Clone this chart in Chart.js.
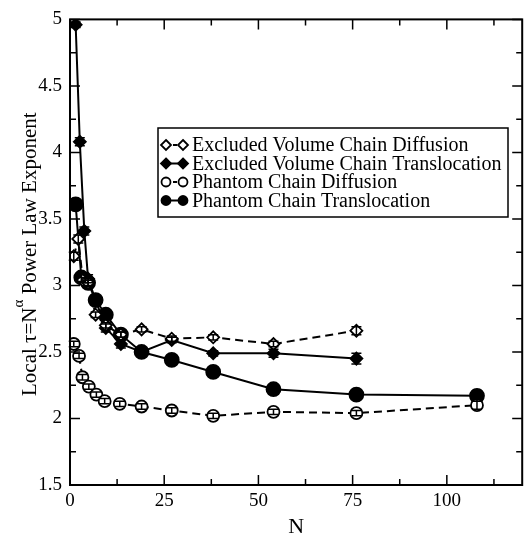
<!DOCTYPE html>
<html>
<head>
<meta charset="utf-8">
<script src="https://cdn.jsdelivr.net/npm/chart.js@4/dist/chart.umd.min.js"></script>
<style>
  html, body { margin: 0; padding: 0; background: #fff; }
</style>
</head>
<body>
<canvas id="chart" width="531" height="541"></canvas>
<script>
// ── Datos ───────────────────────────────────────────────────────────
const evdN   = [1.0, 2.2, 3.4, 4.8, 6.8, 9.5, 13.5, 19, 27, 38, 54, 76];
const evdVal = [3.22, 3.35, 3.04, 3.02, 2.78, 2.70, 2.63, 2.67, 2.60, 2.61, 2.56, 2.66];
const evdErr = [0.03, 0.03, 0.02, 0.02, 0.02, 0.02, 0.02, 0.02, 0.02, 0.02, 0.02, 0.03];

const evtN   = [1.5, 2.6, 3.8, 4.8, 6.8, 9.5, 13.5, 19, 27, 38, 54, 76];
const evtVal = [4.96, 4.08, 3.41, 3.05, 2.89, 2.68, 2.56, 2.50, 2.59, 2.49, 2.49, 2.45];
const evtErr = [0.02, 0.03, 0.03, 0.03, 0.03, 0.03, 0.03, 0.02, 0.02, 0.02, 0.03, 0.04];

const pdN    = [1.0, 2.4, 3.3, 5.0, 7.0, 9.2, 13.2, 19, 27, 38, 54, 76, 108];
const pdVal  = [2.56, 2.47, 2.31, 2.24, 2.18, 2.13, 2.11, 2.09, 2.06, 2.02, 2.05, 2.04, 2.10];
const pdErr  = [0.02, 0.02, 0.02, 0.02, 0.02, 0.02, 0.02, 0.02, 0.02, 0.02, 0.02, 0.02, 0.03];

const ptN    = [1.5, 3.0, 4.8, 6.8, 9.5, 13.5, 19, 27, 38, 54, 76, 108];
const ptVal  = [3.61, 3.06, 3.02, 2.89, 2.78, 2.63, 2.50, 2.44, 2.35, 2.22, 2.18, 2.17];
const ptErr  = [0.02, 0.03, 0.03, 0.03, 0.02, 0.02, 0.02, 0.02, 0.02, 0.02, 0.02, 0.04];

const xMajor = [0, 25, 50, 75, 100];
const yMajor = [1.5, 2, 2.5, 3, 3.5, 4, 4.5, 5];

const seriesLabels = [
  'Excluded Volume Chain Diffusion',
  'Excluded Volume Chain Translocation',
  'Phantom Chain Diffusion',
  'Phantom Chain Translocation'
];

const SERIF = "'Liberation Serif', 'DejaVu Serif', serif";

function pts(xs, ys) { return xs.map((x, i) => ({ x, y: ys[i] })); }

function mkSet(label, xs, ys, errs, { style, filled, dashed, radius }) {
  return {
    label,
    data: pts(xs, ys),
    errors: errs,
    showLine: true,
    borderColor: '#000',
    borderWidth: 2,
    borderDash: dashed ? [8, 5] : [],
    pointStyle: style,
    pointRadius: radius,
    pointBorderWidth: 1.8,
    pointBorderColor: '#000',
    pointBackgroundColor: filled ? '#000' : '#fff',
    filledMark: filled,
    dashedLine: dashed
  };
}

// ── Marcador dibujado a mano (leyenda) ──────────────────────────────
function mark(ctx, style, filled, x, y, r) {
  ctx.save();
  ctx.setLineDash([]);
  ctx.lineWidth = 1.8;
  ctx.strokeStyle = '#000';
  ctx.fillStyle = filled ? '#000' : '#fff';
  ctx.beginPath();
  if (style === 'circle') {
    ctx.arc(x, y, r, 0, Math.PI * 2);
  } else {
    ctx.moveTo(x, y - r); ctx.lineTo(x + r, y); ctx.lineTo(x, y + r); ctx.lineTo(x - r, y); ctx.closePath();
  }
  ctx.fill(); ctx.stroke();
  ctx.restore();
}

// ── Barras de error ─────────────────────────────────────────────────
const errorBars = {
  id: 'errorBars',
  afterDatasetsDraw(chart) {
    const { ctx, scales: { x, y } } = chart;
    ctx.save();
    ctx.strokeStyle = '#000';
    ctx.lineWidth = 1.5;
    chart.data.datasets.forEach(ds => {
      ds.data.forEach((p, i) => {
        const e = ds.errors[i];
        const px = x.getPixelForValue(p.x);
        const y0 = y.getPixelForValue(p.y - e), y1 = y.getPixelForValue(p.y + e);
        ctx.beginPath();
        ctx.moveTo(px, y0); ctx.lineTo(px, y1);
        ctx.moveTo(px - 5, y0); ctx.lineTo(px + 5, y0);
        ctx.moveTo(px - 5, y1); ctx.lineTo(px + 5, y1);
        ctx.stroke();
      });
    });
    ctx.restore();
  }
};

// ── Marco, marcas internas, títulos y leyenda ───────────────────────
const frame = {
  id: 'frame',
  afterDraw(chart) {
    const { ctx, chartArea: a, scales: { x, y } } = chart;
    ctx.save();
    ctx.strokeStyle = '#000';
    ctx.lineWidth = 2;
    ctx.strokeRect(a.left, a.top, a.right - a.left, a.bottom - a.top);

    ctx.lineWidth = 1.5;
    ctx.beginPath();
    for (let v = 0; v <= 120; v += 12.5) {
      const len = v % 25 === 0 ? 10 : 6;
      const px = x.getPixelForValue(v);
      ctx.moveTo(px, a.bottom); ctx.lineTo(px, a.bottom - len);
      ctx.moveTo(px, a.top); ctx.lineTo(px, a.top + len);
    }
    for (let v = 1.5; v <= 5.001; v += 0.25) {
      const len = Math.abs(v * 2 - Math.round(v * 2)) < 1e-6 ? 10 : 6;
      const py = y.getPixelForValue(v);
      ctx.moveTo(a.left, py); ctx.lineTo(a.left + len, py);
      ctx.moveTo(a.right, py); ctx.lineTo(a.right - len, py);
    }
    ctx.stroke();

    // Título eje X
    ctx.fillStyle = '#000';
    ctx.font = `22px ${SERIF}`;
    ctx.textAlign = 'center';
    ctx.textBaseline = 'middle';
    ctx.fillText('N', (a.left + a.right) / 2, 527);

    // Título eje Y con superíndice
    ctx.save();
    ctx.translate(28, (a.top + a.bottom) / 2 + 2);
    ctx.rotate(-Math.PI / 2);
    const big = `21px ${SERIF}`, small = `15px ${SERIF}`;
    const p1 = 'Local \u03c4=N', p2 = '\u03b1', p3 = ' Power Law Exponent';
    ctx.font = big;  const w1 = ctx.measureText(p1).width, w3 = ctx.measureText(p3).width;
    ctx.font = small; const w2 = ctx.measureText(p2).width;
    let sx = -(w1 + w2 + w3) / 2;
    ctx.textAlign = 'left';
    ctx.textBaseline = 'alphabetic';
    ctx.font = big;   ctx.fillText(p1, sx, 8); sx += w1;
    ctx.font = small; ctx.fillText(p2, sx, -5); sx += w2;
    ctx.font = big;   ctx.fillText(p3, sx, 8);
    ctx.restore();

    // Leyenda
    const bx = 158, by = 128, bw = 350, bh = 89;
    ctx.lineWidth = 1.5;
    ctx.fillStyle = '#fff';
    ctx.fillRect(bx, by, bw, bh);
    ctx.strokeRect(bx, by, bw, bh);
    ctx.font = `20px ${SERIF}`;
    ctx.textAlign = 'left';
    ctx.textBaseline = 'middle';
    chart.data.datasets.forEach((ds, i) => {
      const ly = 145 + i * 18.5;
      ctx.beginPath();
      ctx.setLineDash(ds.dashedLine ? [4, 3] : []);
      ctx.lineWidth = 2;
      ctx.moveTo(166, ly); ctx.lineTo(183, ly);
      ctx.stroke();
      ctx.setLineDash([]);
      const r = ds.pointStyle === 'circle' ? 4.5 : 5;
      mark(ctx, ds.pointStyle, ds.filledMark, 166, ly, r);
      mark(ctx, ds.pointStyle, ds.filledMark, 183, ly, r);
      ctx.fillStyle = '#000';
      ctx.fillText(ds.label, 192, ly + 1);
    });
    ctx.restore();
  }
};

new Chart(document.getElementById('chart'), {
  type: 'scatter',
  data: {
    datasets: [
      mkSet(seriesLabels[0], evdN, evdVal, evdErr, { style: 'rectRot', filled: false, dashed: true, radius: 6 }),
      mkSet(seriesLabels[1], evtN, evtVal, evtErr, { style: 'rectRot', filled: true, dashed: false, radius: 6 }),
      mkSet(seriesLabels[2], pdN, pdVal, pdErr, { style: 'circle', filled: false, dashed: true, radius: 6 }),
      mkSet(seriesLabels[3], ptN, ptVal, ptErr, { style: 'circle', filled: true, dashed: false, radius: 7 })
    ]
  },
  options: {
    responsive: false,
    animation: false,
    layout: { padding: { top: 15, right: 6, left: 0, bottom: 0 } },
    plugins: { legend: { display: false }, tooltip: { enabled: false } },
    scales: {
      x: {
        type: 'linear',
        min: 0, max: 120,
        grid: { display: false, drawTicks: false },
        border: { display: false },
        afterBuildTicks: s => { s.ticks = xMajor.map(v => ({ value: v })); },
        afterFit: s => { s.height = 56; },
        ticks: { color: '#000', padding: 5, font: { family: SERIF, size: 19 }, maxRotation: 0 }
      },
      y: {
        type: 'linear',
        min: 1.5, max: 5,
        grid: { display: false, drawTicks: false },
        border: { display: false },
        afterBuildTicks: s => { s.ticks = yMajor.map(v => ({ value: v })); },
        afterFit: s => { s.width = 70; },
        ticks: { color: '#000', padding: 8, font: { family: SERIF, size: 19 }, callback: v => String(v) }
      }
    }
  },
  plugins: [errorBars, frame]
});
</script>
</body>
</html>
